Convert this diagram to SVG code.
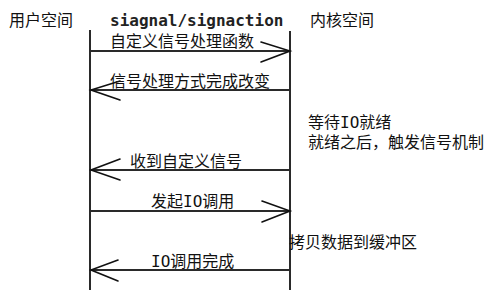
<svg xmlns="http://www.w3.org/2000/svg" width="496" height="300" viewBox="0 0 496 300">
  <style>
    text { font-family: "DejaVu Sans Mono", "Noto Sans CJK SC", monospace; font-size: 16px; fill: #111; }
    .api { font-weight: bold; fill: #222; }
    .life { stroke: #2a2a2a; stroke-width: 2; fill: none; }
    .msg { stroke: #2a2a2a; stroke-width: 1.8; fill: none; }
    .head { stroke: #111; stroke-width: 1.6; fill: none; stroke-linecap: round; }
  </style>
  <rect width="496" height="300" fill="#ffffff"/>

  <g id="user-space">
    <text x="9" y="26">用户空间</text>
    <line class="life" x1="90" y1="30" x2="90" y2="290"/>
  </g>
  <g id="signal-api">
    <text class="api" x="110" y="26">siagnal/signaction</text>
  </g>
  <g id="kernel-space">
    <text x="310" y="26">内核空间</text>
    <line class="life" x1="290" y1="31" x2="290" y2="290"/>
  </g>

  <g id="kernel-notes">
    <text x="308" y="128">等待IO就绪</text>
    <text x="308" y="148">就绪之后，触发信号机制</text>
    <text x="289" y="248">拷贝数据到缓冲区</text>
  </g>

  <g id="connectors">
    <!-- register handler -->
    <line class="msg" x1="90" y1="51" x2="290" y2="51"/>
    <polyline class="head" points="261,42 290,51 261,62"/>
    <text x="110" y="47">自定义信号处理函数</text>

    <!-- handler installed -->
    <line class="msg" x1="90" y1="90" x2="290" y2="90"/>
    <polyline class="head" points="120,81 91,90 120,100"/>
    <text x="110" y="87">信号处理方式完成改变</text>

    <!-- signal delivered -->
    <line class="msg" x1="90" y1="170" x2="290" y2="170"/>
    <polyline class="head" points="120,159 91,170 120,180"/>
    <text x="130" y="167">收到自定义信号</text>

    <!-- start IO -->
    <line class="msg" x1="90" y1="211" x2="290" y2="211"/>
    <polyline class="head" points="262,201 290,211 262,222"/>
    <text x="151" y="207">发起IO调用</text>

    <!-- IO done -->
    <line class="msg" x1="90" y1="270" x2="290" y2="270"/>
    <polyline class="head" points="118,260 91,270 118,281"/>
    <text x="151" y="267">IO调用完成</text>
  </g>
</svg>
